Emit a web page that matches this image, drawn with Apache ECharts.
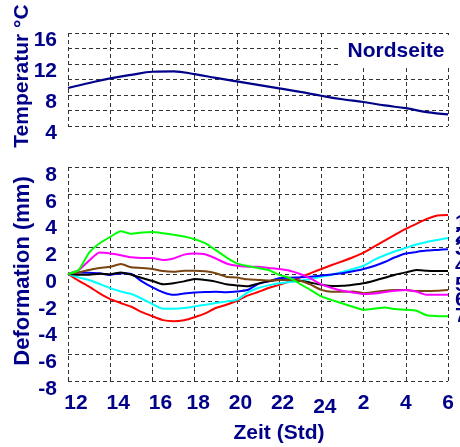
<!DOCTYPE html>
<html><head><meta charset="utf-8">
<script src="https://cdn.jsdelivr.net/npm/echarts@6/dist/echarts.min.js"></script>
<style>html,body{margin:0;padding:0;background:#fff}#c{width:460px;height:447px}</style>
</head><body><div id="c"></div>
<script>
// ---- data ----
const tempHours = [12,13,14,15,16,17,18,19,20,21,22,23,24,25,26,27,28,29,30];
const temperature = [8.9,9.55,10.15,10.6,11.0,11.05,10.7,10.2,9.75,9.3,8.85,8.4,7.9,7.45,7.1,6.65,6.3,5.8,5.5];

const hours = [12,12.5,13,13.5,14,14.5,15,15.5,16,16.5,17,17.5,18,18.5,19,19.5,20,20.5,21,21.5,22,22.5,23,23.5,24,24.5,25,25.5,26,26.5,27,27.5,28,28.5,29,29.5,30];
const sensor1 = [0,-0.5,-0.95,-1.45,-1.88,-2.17,-2.45,-2.85,-3.16,-3.45,-3.53,-3.45,-3.23,-2.95,-2.54,-2.3,-2.0,-1.62,-1.35,-1.05,-0.81,-0.55,-0.25,0.07,0.37,0.67,0.95,1.25,1.6,2.05,2.5,2.95,3.38,3.75,4.12,4.38,4.42];
const sensor2 = [0,-0.25,-0.45,-0.75,-1.06,-1.31,-1.5,-1.85,-2.25,-2.6,-2.6,-2.55,-2.42,-2.3,-2.17,-2.05,-1.93,-1.4,-1.05,-0.85,-0.69,-0.6,-0.5,-0.37,-0.2,-0.05,0.15,0.38,0.62,1.05,1.4,1.7,1.95,2.2,2.4,2.55,2.69];
const sensor3 = [0,0.12,0.1,0.05,-0.07,0.05,0.0,-0.55,-1.0,-1.36,-1.56,-1.45,-1.38,-1.35,-1.33,-1.36,-1.31,-1.2,-0.75,-0.55,-0.32,-0.28,-0.25,-0.2,-0.12,-0.03,0.05,0.2,0.37,0.6,0.9,1.25,1.53,1.65,1.75,1.8,1.85];
const sensor4 = [0,-0.05,-0.05,0.02,-0.02,0.12,-0.05,-0.3,-0.52,-0.77,-0.69,-0.55,-0.37,-0.45,-0.57,-0.77,-0.86,-0.92,-0.72,-0.55,-0.44,-0.44,-0.5,-0.65,-0.81,-0.9,-0.88,-0.8,-0.69,-0.5,-0.28,-0.05,0.12,0.3,0.25,0.22,0.22];
const sensor5 = [0,0.12,0.3,0.45,0.54,0.74,0.5,0.45,0.37,0.22,0.17,0.25,0.25,0.2,0.05,-0.2,-0.27,-0.4,-0.44,-0.48,-0.44,-0.44,-0.5,-0.8,-1.19,-1.33,-1.33,-1.31,-1.43,-1.35,-1.25,-1.2,-1.19,-1.28,-1.28,-1.25,-1.19];
const sensor6 = [0,0.3,1.0,1.6,1.53,1.4,1.25,1.2,1.2,1.04,1.16,1.45,1.53,1.48,1.16,0.79,0.62,0.55,0.54,0.45,0.37,0.25,0.0,-0.35,-0.77,-1.05,-1.25,-1.38,-1.5,-1.45,-1.35,-1.25,-1.19,-1.31,-1.56,-1.56,-1.56];
const sensor7 = [0,0.3,1.6,2.3,2.77,3.2,3.0,3.1,3.14,3.05,2.94,2.8,2.6,2.3,1.78,1.25,0.8,0.6,0.45,0.3,-0.07,-0.3,-0.75,-1.2,-1.68,-1.95,-2.2,-2.45,-2.67,-2.6,-2.5,-2.62,-2.67,-2.75,-3.09,-3.15,-3.16];

const sensorLabels = ['1','2','3','4','5','6','7'];
const xTickValues = [12,14,16,18,20,22,24,26,28,30];
const xTickLabels = ['12','14','16','18','20','22','24','2','4','6'];
const titleText = 'Nordseite';
const tempAxisName = 'Temperatur °C';
const defAxisName = 'Deformation (mm)';
const timeAxisName = 'Zeit (Std)';

// ---- styling ----
const NAVY = '#000088';
const FONT = '"Liberation Sans", Arial, sans-serif';
const sensorColors = ['#ff0000','#00ffff','#0000ff','#000000','#7a4510','#ff00ff','#00ff00'];
const gridLine = { show: true, lineStyle: { color: '#333', width: 1, type: [4, 3] } };

const sensors = [sensor1, sensor2, sensor3, sensor4, sensor5, sensor6, sensor7];
const pairs = (xs, ys) => xs.map((x, i) => [x, ys[i]]);

const chart = echarts.init(document.getElementById('c'), null, { renderer: 'canvas' });

const xLabelStyle = (v) => {
  const idx = xTickValues.indexOf(v);
  if (idx < 0) return '';
  const t = xTickLabels[idx];
  if (v <= 16) return '{a|' + t + '}';
  if (v === 24) return '{e|' + t + '}';
  if (v <= 22) return '{b|' + t + '}';
  return '{c|' + t + '}';
};
const richBase = { fontFamily: FONT, fontWeight: 'bold', fontSize: 21, color: NAVY };

const labelYs = [223, 236, 249, 266, 285, 300, 316];

chart.setOption({
  animation: false,
  backgroundColor: '#fff',
  grid: [
    { left: 68, right: 12, top: 33, height: 93, outerBoundsMode: 'none' },
    { left: 68, right: 12, top: 167, height: 214, outerBoundsMode: 'none' }
  ],
  xAxis: [
    { type: 'value', gridIndex: 0, min: 12, max: 30, interval: 2,
      axisLine: { show: false }, axisTick: { show: false }, axisLabel: { show: false },
      splitLine: gridLine },
    { type: 'value', gridIndex: 1, min: 12, max: 30, interval: 2,
      axisLine: { show: false }, axisTick: { show: false },
      axisLabel: { show: true, margin: 12, formatter: xLabelStyle,
        rich: {
          a: Object.assign({ padding: [0, 0, 0, 16] }, richBase),
          b: Object.assign({ padding: [0, 0, 0, 7] }, richBase),
          c: Object.assign({}, richBase),
          e: Object.assign({ padding: [4, 0, 0, 7] }, richBase)
        } },
      splitLine: gridLine }
  ],
  yAxis: [
    { type: 'value', gridIndex: 0, min: 4, max: 16, interval: 2,
      axisLine: { show: false }, axisTick: { show: false },
      axisLabel: { margin: 11, fontFamily: FONT, fontWeight: 'bold', fontSize: 21, color: NAVY,
        verticalAlign: 'top', lineHeight: 14,
        formatter: v => (v % 4 === 0 ? String(v) : '') },
      splitLine: gridLine },
    { type: 'value', gridIndex: 1, min: -8, max: 8, interval: 2,
      axisLine: { show: false }, axisTick: { show: false },
      axisLabel: { margin: 11, fontFamily: FONT, fontWeight: 'bold', fontSize: 21, color: NAVY,
        verticalAlign: 'top', lineHeight: 16 },
      splitLine: gridLine }
  ],
  series: [
    { type: 'line', xAxisIndex: 0, yAxisIndex: 0, data: pairs(tempHours, temperature),
      smooth: 0.4, showSymbol: false, lineStyle: { color: NAVY, width: 2.2 } }
  ].concat(sensors.map((s, i) => ({
    type: 'line', xAxisIndex: 1, yAxisIndex: 1, name: sensorLabels[i],
    data: pairs(hours, s), smooth: 0.2, showSymbol: false,
    lineStyle: { color: sensorColors[i], width: 2 }
  }))),
  graphic: [
    { type: 'rect', z: 100, shape: { x: 338, y: 35, width: 114, height: 32 }, style: { fill: '#fff' } },
    { type: 'text', z: 101, x: 396, y: 51, style: { text: titleText, fontFamily: FONT, fontWeight: 'bold', fontSize: 21, fill: NAVY, align: 'center', verticalAlign: 'middle' } },
    { type: 'text', z: 101, x: 22, y: 76, rotation: Math.PI / 2, style: { text: tempAxisName, fontFamily: FONT, fontWeight: 'bold', fontSize: 21, fill: NAVY, align: 'center', verticalAlign: 'middle' } },
    { type: 'text', z: 101, x: 23, y: 271, rotation: Math.PI / 2, style: { text: defAxisName, fontFamily: FONT, fontWeight: 'bold', fontSize: 22, fill: NAVY, align: 'center', verticalAlign: 'middle' } },
    { type: 'text', z: 101, x: 279, y: 433, style: { text: timeAxisName, fontFamily: FONT, fontWeight: 'bold', fontSize: 21, fill: NAVY, align: 'center', verticalAlign: 'middle' } }
  ].concat(sensorLabels.map((t, i) => ({
    type: 'text', z: 101, x: 455, y: labelYs[i],
    style: { text: t, fontFamily: FONT, fontWeight: 'bold', fontSize: 21, fill: NAVY, align: 'left', verticalAlign: 'middle' }
  })))
});
</script>
</body></html>
